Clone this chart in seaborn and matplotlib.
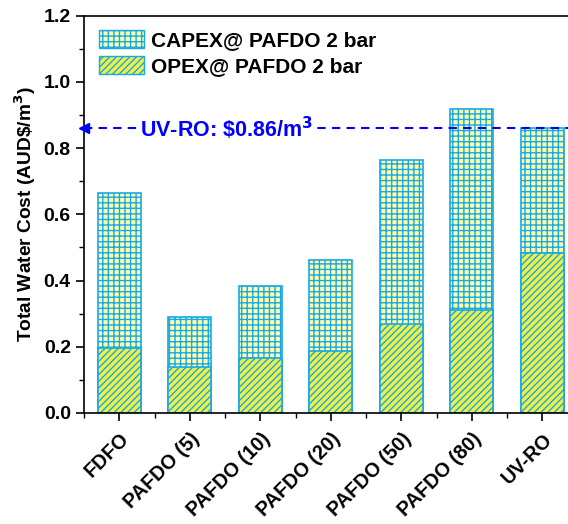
import numpy as np
import pandas as pd
import matplotlib
matplotlib.use('Agg')
import matplotlib.pyplot as plt
import seaborn as sns
from matplotlib.patches import Patch
from matplotlib.ticker import MultipleLocator

# values
cases = ['FDFO', 'PAFDO (5)', 'PAFDO (10)', 'PAFDO (20)', 'PAFDO (50)', 'PAFDO (80)', 'UV-RO']
opex = [0.197, 0.140, 0.165, 0.187, 0.268, 0.311, 0.484]
total = [0.663, 0.291, 0.384, 0.463, 0.764, 0.918, 0.860]
uvro_cost = 0.86

df = pd.DataFrame({'case': cases, 'opex': opex, 'total': total})

sns.set_style('ticks', {'axes.edgecolor': 'black', 'text.color': 'black',
                        'xtick.color': 'black', 'ytick.color': 'black',
                        'axes.labelcolor': 'black'})
plt.rcParams['font.family'] = ['Liberation Sans', 'DejaVu Sans']
plt.rcParams['font.weight'] = 'bold'
plt.rcParams['mathtext.default'] = 'bf'
plt.rcParams['hatch.linewidth'] = 1.0

hatch_blue = '#18a8ec'

fig = plt.figure(figsize=(5.68, 5.24), dpi=100)
ax = fig.add_axes([0.148, 0.212, 0.869, 0.758])

# CAPEX stacked on top -> draw total first, OPEX over it
sns.barplot(data=df, x='case', y='total', color='#ffffa8', width=0.61,
            saturation=1, ax=ax)
sns.barplot(data=df, x='case', y='opex', color='#f2f040', width=0.61,
            saturation=1, ax=ax)
for p in ax.containers[0]:
    p.set_hatch('+++')
    p.set_edgecolor(hatch_blue)
    p.set_linewidth(1.2)
for p in ax.containers[1]:
    p.set_hatch('/////')
    p.set_edgecolor(hatch_blue)
    p.set_linewidth(1.2)

# UV-RO reference line
ax.axhline(uvro_cost, color='blue', lw=1.5, dashes=(4, 3), zorder=1)
ax.plot([-0.5], [uvro_cost], marker='<', color='blue', markersize=7,
        clip_on=False, zorder=5)
ax.text(0.3, uvro_cost, r'UV-RO: \$0.86/m$^3$', color='blue', fontsize=15.5,
        fontweight='bold', va='center', ha='left',
        bbox=dict(facecolor='white', edgecolor='none', pad=1))

ax.set_xlim(-0.5, 6.5)
ax.set_ylim(0, 1.2)
ax.yaxis.set_major_locator(MultipleLocator(0.2))
ax.yaxis.set_minor_locator(MultipleLocator(0.1))
ax.set_xticks(np.arange(len(cases)))
ax.set_xticks(np.arange(len(cases)) - 0.5, minor=True)
ax.set_xticklabels(cases, rotation=45, ha='right', va='top',
                   rotation_mode='anchor', fontsize=14.3, fontweight='bold')
ax.tick_params(axis='x', which='major', pad=6)
ax.set_yticklabels([f'{v:.1f}' for v in ax.get_yticks()], fontsize=14,
                   fontweight='bold')
ax.tick_params(which='major', direction='out', length=6, width=1.2)
ax.tick_params(which='minor', direction='out', length=3.5, width=1.0)
ax.set_xlabel('')
ax.set_ylabel(r'Total Water Cost (AUD\$/m$^3$)', fontsize=13.8, fontweight='bold')
for s in ax.spines.values():
    s.set_linewidth(1.2)

handles = [Patch(facecolor='#ffffa8', edgecolor=hatch_blue, hatch='+++', label='CAPEX@ PAFDO 2 bar'),
           Patch(facecolor='#f2f040', edgecolor=hatch_blue, hatch='/////', label='OPEX@ PAFDO 2 bar')]
ax.legend(handles=handles, loc='upper left', frameon=False,
          handlelength=2.2, handleheight=0.9, handletextpad=0.3,
          labelspacing=0.3, borderaxespad=0.3,
          prop={'weight': 'bold', 'size': 15})

fig.savefig('out.png', dpi=100, facecolor='white')
